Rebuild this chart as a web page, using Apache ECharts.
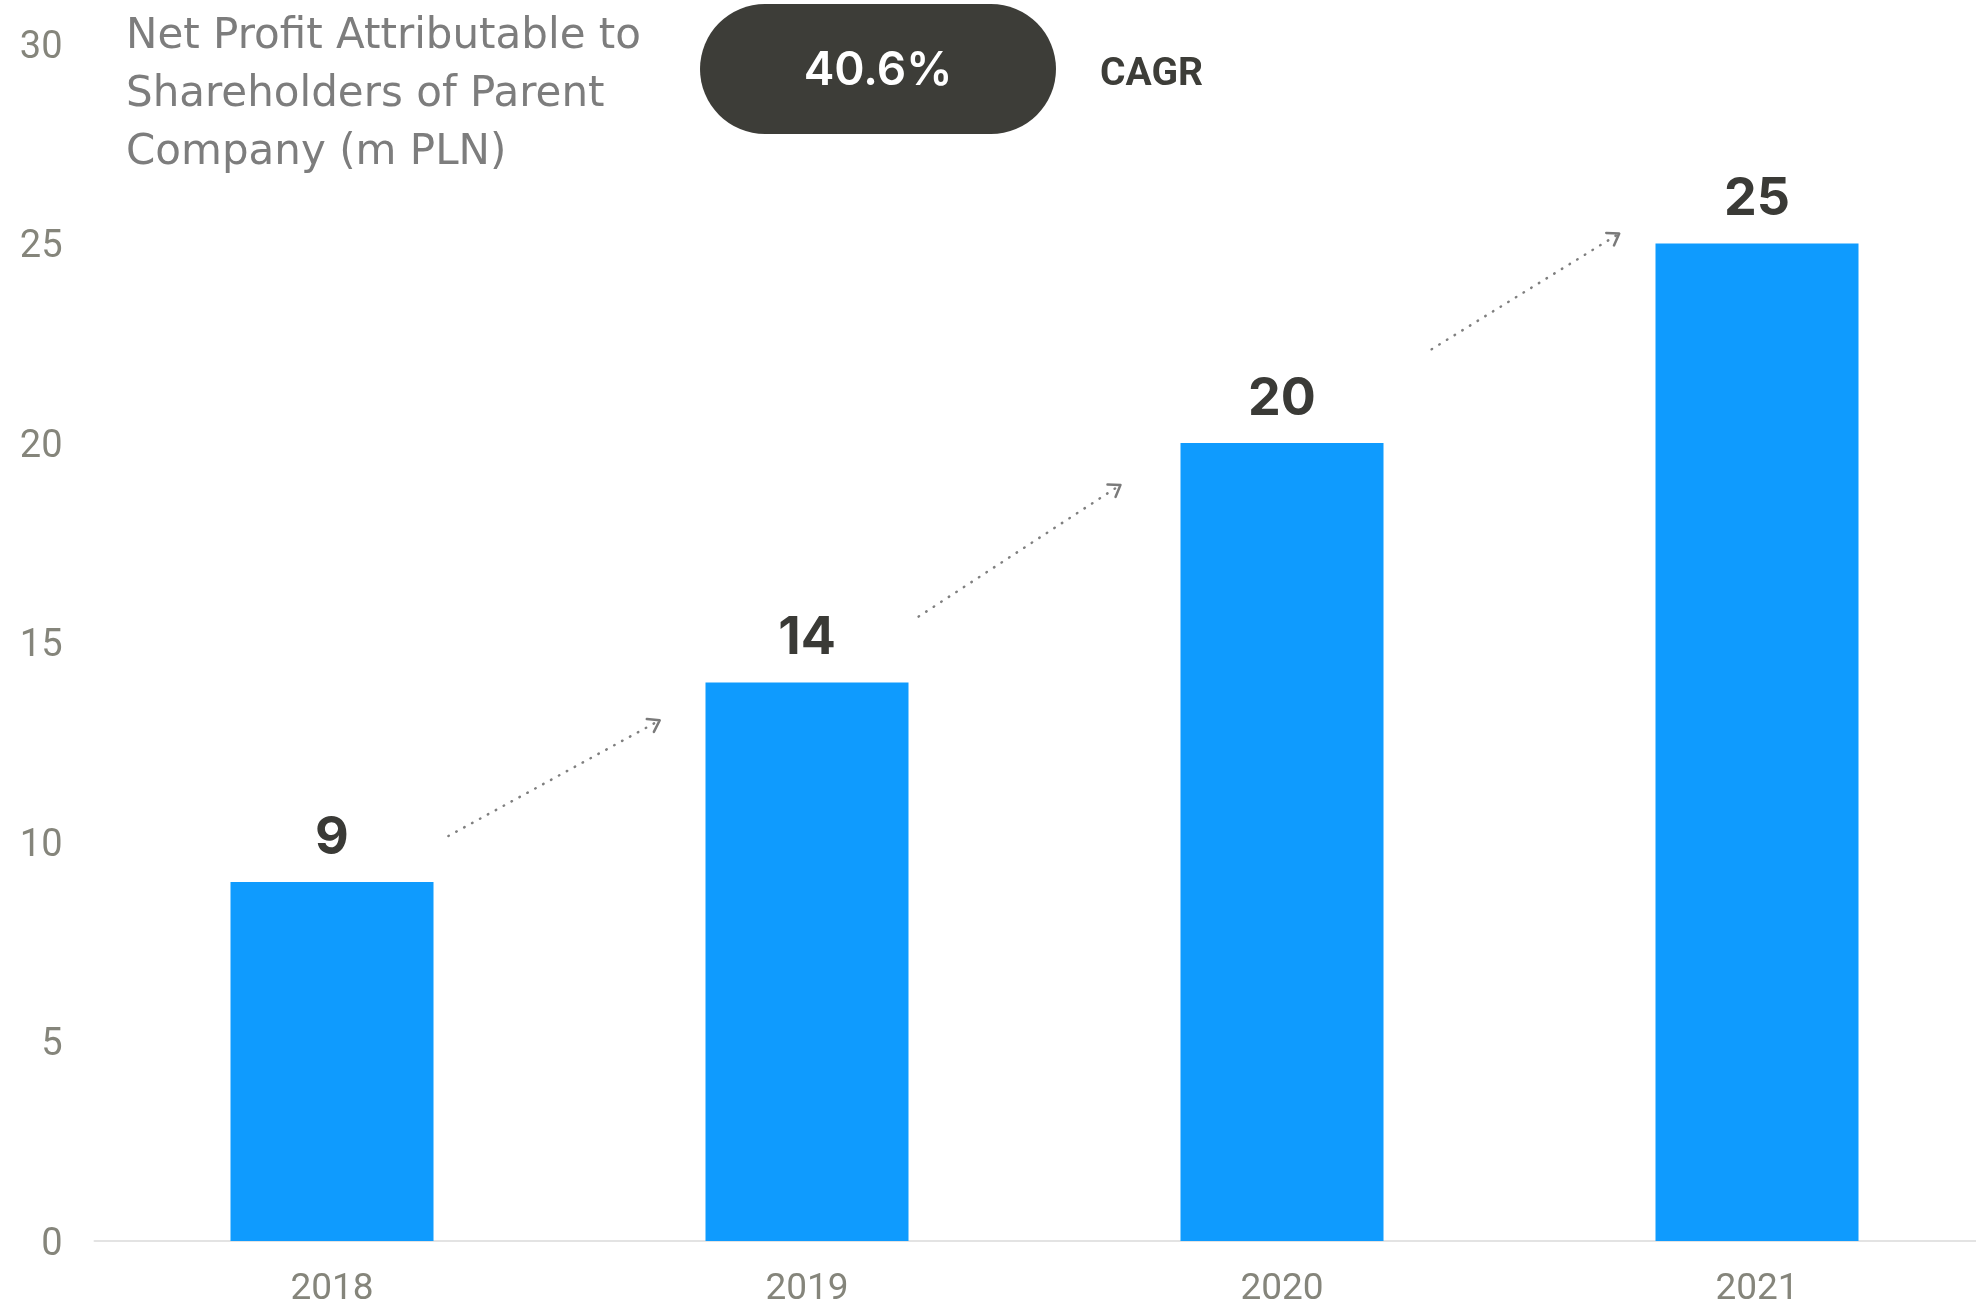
<!DOCTYPE html>
<html>
<head>
<meta charset="utf-8">
<style>
  html, body { margin: 0; padding: 0; background: #ffffff; }
  #chart { width: 1976px; height: 1307px; }
</style>
<script src="https://cdn.jsdelivr.net/npm/echarts@6/dist/echarts.min.js"></script>
</head>
<body>
<div id="chart"></div>
<script>
// Net profit attributable to shareholders of the parent company, m PLN
const years = ['2018', '2019', '2020', '2021'];
const netProfit = [9, 14, 20, 25];
const yTicks = { min: 0, max: 30, interval: 5 };
const cagrText = '40.6%';
const cagrLabel = 'CAGR';
const titleText = 'Net Profit Attributable to\nShareholders of Parent\nCompany (m PLN)';

// Growth arrows between bars: [xStart, yStart, xEnd, yEnd] in (category index, value) space
const growthArrows = [
  [0.245, 10.15, 0.69, 13.05],
  [1.235, 15.65, 1.66, 18.95],
  [2.315, 22.35, 2.71, 25.25]
];

const axisGray = '#85857b';
const dark = '#3d3d38';

const chart = echarts.init(document.getElementById('chart'));

function renderArrow(params, api) {
  const p0 = api.coord([api.value(0), api.value(1)]);
  const p1 = api.coord([api.value(2), api.value(3)]);
  const ang = Math.atan2(p1[1] - p0[1], p1[0] - p0[0]);
  const len = 13, spread = 0.6;
  const a1 = [p1[0] - len * Math.cos(ang - spread), p1[1] - len * Math.sin(ang - spread)];
  const a2 = [p1[0] - len * Math.cos(ang + spread), p1[1] - len * Math.sin(ang + spread)];
  return {
    type: 'group',
    children: [
      {
        type: 'line',
        shape: { x1: p0[0], y1: p0[1], x2: p1[0], y2: p1[1] },
        style: { stroke: '#7f7f7f', lineWidth: 2.5, lineDash: [0.5, 8.5], lineCap: 'round' }
      },
      {
        type: 'polyline',
        shape: { points: [a1, p1, a2] },
        style: { stroke: '#7a7a7a', lineWidth: 2.5, fill: null, lineCap: 'round', lineJoin: 'round' }
      }
    ]
  };
}

chart.setOption({
  backgroundColor: '#ffffff',
  animation: false,
  title: {
    text: titleText,
    left: 126,
    top: 8,
    padding: 0,
    textStyle: {
      fontFamily: 'DejaVu Sans',
      fontWeight: 400,
      fontSize: 42,
      lineHeight: 58,
      color: '#7d7d7d'
    }
  },
  grid: { left: 94.5, right: -18.5, top: 44, bottom: 66, outerBoundsMode: 'none', containLabel: false },
  xAxis: [
    {
      type: 'category',
      data: years,
      axisLine: { lineStyle: { color: '#e3e3e3', width: 2 } },
      axisTick: { show: false },
      axisLabel: {
        color: axisGray,
        fontFamily: 'Roboto',
        fontSize: 37,
        margin: 30
      }
    },
    {
      type: 'value',
      min: -0.5,
      max: 3.5,
      show: false
    }
  ],
  yAxis: {
    type: 'value',
    min: yTicks.min,
    max: yTicks.max,
    interval: yTicks.interval,
    axisLine: { show: false },
    axisTick: { show: false },
    splitLine: { show: false },
    axisLabel: {
      color: axisGray,
      fontFamily: 'Roboto',
      fontSize: 38,
      margin: 32,
      verticalAlign: 'top',
      lineHeight: 8
    }
  },
  series: [
    {
      type: 'bar',
      data: netProfit,
      barWidth: 203,
      itemStyle: { color: '#0f9bfe' },
      label: {
        show: true,
        position: 'top',
        distance: 18,
        color: '#3a3a36',
        fontFamily: 'Inter',
        fontWeight: 700,
        fontSize: 52
      }
    },
    {
      type: 'custom',
      xAxisIndex: 1,
      yAxisIndex: 0,
      dimensions: ['x0', 'y0', 'x1', 'y1'],
      encode: { x: [0, 2], y: [1, 3] },
      data: growthArrows,
      clip: false,
      silent: true,
      renderItem: renderArrow
    }
  ],
  graphic: [
    {
      type: 'rect',
      x: 700,
      y: 4,
      shape: { x: 0, y: 0, width: 356, height: 130, r: 65 },
      style: { fill: dark }
    },
    {
      type: 'text',
      x: 878,
      y: 71,
      style: {
        text: cagrText,
        fill: '#ffffff',
        font: '600 46px Inter',
        textAlign: 'center',
        textVerticalAlign: 'middle'
      }
    },
    {
      type: 'text',
      x: 1100,
      y: 75,
      style: {
        text: cagrLabel,
        fill: dark,
        font: 'bold 39px Roboto',
        textVerticalAlign: 'middle'
      }
    }
  ]
});
</script>
</body>
</html>
